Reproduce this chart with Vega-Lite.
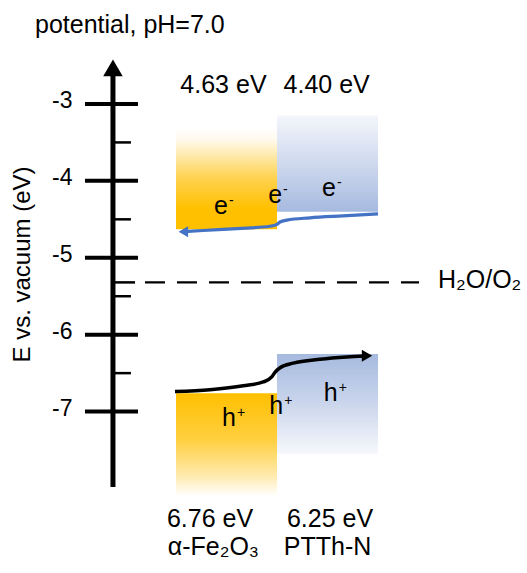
{
  "$schema": "https://vega.github.io/schema/vega-lite/v6.json",
  "width": 440,
  "height": 573,
  "autosize": "none",
  "padding": {"left": 87, "top": 0, "right": 0, "bottom": 0},
  "background": "white",
  "config": {
    "view": {"stroke": null},
    "font": "Liberation Sans",
    "text": {"color": "black"}
  },
  "datasets": {
    "bands": [
      {"material": "α-Fe2O3", "band": "CB", "u": 0, "u2": 1, "v": -3.3, "v2": -4.63},
      {"material": "PTTh-N", "band": "CB", "u": 1, "u2": 2, "v": -3.15, "v2": -4.40},
      {"material": "α-Fe2O3", "band": "VB", "u": 0, "u2": 1, "v": -6.76, "v2": -8.1},
      {"material": "PTTh-N", "band": "VB", "u": 1, "u2": 2, "v": -6.25, "v2": -7.55}
    ],
    "electron": [
      {"u": 0.09, "v": -4.66},
      {"u": 0.267, "v": -4.645},
      {"u": 0.604, "v": -4.62},
      {"u": 0.931, "v": -4.59},
      {"u": 1.0, "v": -4.565},
      {"u": 1.03, "v": -4.535},
      {"u": 1.099, "v": -4.51},
      {"u": 1.327, "v": -4.48},
      {"u": 1.653, "v": -4.455},
      {"u": 2.0, "v": -4.43}
    ],
    "hole": [
      {"u": -0.01, "v": -6.74},
      {"u": 0.337, "v": -6.715},
      {"u": 0.666, "v": -6.665},
      {"u": 0.864, "v": -6.615},
      {"u": 0.948, "v": -6.55},
      {"u": 0.98, "v": -6.49},
      {"u": 1.03, "v": -6.43},
      {"u": 1.161, "v": -6.37},
      {"u": 1.426, "v": -6.32},
      {"u": 1.69, "v": -6.29},
      {"u": 1.87, "v": -6.277}
    ],
    "heads": [
      {"carrier": "e", "u": 0.073, "v": -4.662},
      {"carrier": "h", "u": 1.891, "v": -6.275},
      {"carrier": "axis", "u": -0.624, "v": -2.53}
    ],
    "axisLine": [{"u": -0.624, "v": -2.6, "v2": -7.98}],
    "ticks": [
      {"v": -3, "kind": "major"},
      {"v": -4, "kind": "major"},
      {"v": -5, "kind": "major"},
      {"v": -6, "kind": "major"},
      {"v": -7, "kind": "major"},
      {"v": -3.5, "kind": "minor"},
      {"v": -4.5, "kind": "minor"},
      {"v": -5.5, "kind": "minor"},
      {"v": -6.5, "kind": "minor"}
    ],
    "redox": [{"name": "H2O/O2", "v": -5.32}],
    "carriers": [
      {"u": 0.515, "v": -4.43, "base": "e", "sup": "-"},
      {"u": 1.05, "v": -4.283, "base": "e", "sup": "-"},
      {"u": 1.584, "v": -4.196, "base": "e", "sup": "-"},
      {"u": 0.594, "v": -7.187, "base": "h", "sup": "+"},
      {"u": 1.062, "v": -7.035, "base": "h", "sup": "+"},
      {"u": 1.601, "v": -6.862, "base": "h", "sup": "+"}
    ],
    "centerLabels": [
      {"u": 0.47, "v": -2.857, "text": "4.63 eV"},
      {"u": 1.492, "v": -2.857, "text": "4.40 eV"},
      {"u": 0.337, "v": -8.5, "text": "6.76 eV"},
      {"u": 1.525, "v": -8.5, "text": "6.25 eV"},
      {"u": 0.37, "v": -8.865, "text": "α-Fe₂O₃"},
      {"u": 1.5, "v": -8.865, "text": "PTTh-N"}
    ],
    "leftLabels": [
      {"u": -1.396, "v": -2.077, "text": "potential, pH=7.0"},
      {"u": 2.594, "v": -5.393, "text": "H₂O/O₂"}
    ]
  },
  "encoding": {
    "y": {
      "field": "v",
      "type": "quantitative",
      "scale": {"domain": [-9.099, -1.648], "nice": false, "zero": false},
      "axis": {
        "values": [-3, -4, -5, -6, -7],
        "domain": false,
        "ticks": false,
        "grid": false,
        "labelFontSize": 23,
        "labelColor": "black",
        "labelPadding": 15,
        "labelOffset": -3,
        "labelFlush": false,
        "labelOverlap": false,
        "labelExpr": "datum.value < 0 ? '-' + abs(datum.value) : '' + datum.value",
        "title": "E vs. vacuum (eV)",
        "titleFontSize": 24,
        "titleFontWeight": "normal",
        "titleColor": "black",
        "titleX": -65,
        "titleY": 264,
        "titleAngle": -90,
        "titleAlign": "center",
        "titleBaseline": "middle"
      }
    }
  },
  "layer": [
    {
      "data": {"name": "bands"},
      "transform": [{"filter": "datum.material === 'α-Fe2O3' && datum.band === 'CB'"}],
      "mark": {"type": "rect", "color": {"gradient": "linear", "x1": 0, "y1": 0, "x2": 0, "y2": 1, "stops": [
        {"offset": 0, "color": "#ffffff"},
        {"offset": 0.12, "color": "#fffaee"},
        {"offset": 0.5, "color": "#ffd24f"},
        {"offset": 0.8, "color": "#ffc000"},
        {"offset": 1, "color": "#ffc000"}
      ]}},
      "encoding": {
        "x": {"field": "u", "type": "quantitative", "scale": {"domain": [-0.881, 3.475], "nice": false, "zero": false}, "axis": null},
        "x2": {"field": "u2"},
        "y2": {"field": "v2"}
      }
    },
    {
      "data": {"name": "bands"},
      "transform": [{"filter": "datum.material === 'PTTh-N' && datum.band === 'CB'"}],
      "mark": {"type": "rect", "color": {"gradient": "linear", "x1": 0, "y1": 0, "x2": 0, "y2": 1, "stops": [
        {"offset": 0, "color": "#f3f6fb"},
        {"offset": 0.5, "color": "#cfd9ee"},
        {"offset": 1, "color": "#a6badf"}
      ]}},
      "encoding": {
        "x": {"field": "u", "type": "quantitative", "scale": {"domain": [-0.881, 3.475], "nice": false, "zero": false}, "axis": null},
        "x2": {"field": "u2"},
        "y2": {"field": "v2"}
      }
    },
    {
      "data": {"name": "bands"},
      "transform": [{"filter": "datum.material === 'α-Fe2O3' && datum.band === 'VB'"}],
      "mark": {"type": "rect", "color": {"gradient": "linear", "x1": 0, "y1": 0, "x2": 0, "y2": 1, "stops": [
        {"offset": 0, "color": "#ffc000"},
        {"offset": 0.45, "color": "#ffcf3f"},
        {"offset": 0.8, "color": "#ffeaad"},
        {"offset": 1, "color": "#ffffff"}
      ]}},
      "encoding": {
        "x": {"field": "u", "type": "quantitative", "scale": {"domain": [-0.881, 3.475], "nice": false, "zero": false}, "axis": null},
        "x2": {"field": "u2"},
        "y2": {"field": "v2"}
      }
    },
    {
      "data": {"name": "bands"},
      "transform": [{"filter": "datum.material === 'PTTh-N' && datum.band === 'VB'"}],
      "mark": {"type": "rect", "color": {"gradient": "linear", "x1": 0, "y1": 0, "x2": 0, "y2": 1, "stops": [
        {"offset": 0, "color": "#a6badf"},
        {"offset": 0.5, "color": "#cbd6ec"},
        {"offset": 1, "color": "#f6f8fc"}
      ]}},
      "encoding": {
        "x": {"field": "u", "type": "quantitative", "scale": {"domain": [-0.881, 3.475], "nice": false, "zero": false}, "axis": null},
        "x2": {"field": "u2"},
        "y2": {"field": "v2"}
      }
    },
    {
      "data": {"name": "electron"},
      "mark": {"type": "line", "interpolate": "monotone", "color": "#4472c4", "strokeWidth": 3.2},
      "encoding": {
        "x": {"field": "u", "type": "quantitative", "scale": {"domain": [-0.881, 3.475], "nice": false, "zero": false}, "axis": null}
      }
    },
    {
      "data": {"name": "heads"},
      "transform": [{"filter": "datum.carrier === 'e'"}],
      "mark": {"type": "point", "shape": "triangle-left", "size": 121, "filled": true, "opacity": 1, "color": "#4472c4"},
      "encoding": {
        "x": {"field": "u", "type": "quantitative", "scale": {"domain": [-0.881, 3.475], "nice": false, "zero": false}, "axis": null}
      }
    },
    {
      "data": {"name": "hole"},
      "mark": {"type": "line", "interpolate": "monotone", "color": "black", "strokeWidth": 3.5},
      "encoding": {
        "x": {"field": "u", "type": "quantitative", "scale": {"domain": [-0.881, 3.475], "nice": false, "zero": false}, "axis": null}
      }
    },
    {
      "data": {"name": "heads"},
      "transform": [{"filter": "datum.carrier === 'h'"}],
      "mark": {"type": "point", "shape": "triangle-right", "size": 144, "filled": true, "opacity": 1, "color": "black"},
      "encoding": {
        "x": {"field": "u", "type": "quantitative", "scale": {"domain": [-0.881, 3.475], "nice": false, "zero": false}, "axis": null}
      }
    },
    {
      "data": {"name": "axisLine"},
      "mark": {"type": "rule", "color": "black", "strokeWidth": 5},
      "encoding": {
        "x": {"field": "u", "type": "quantitative", "scale": {"domain": [-0.881, 3.475], "nice": false, "zero": false}, "axis": null},
        "y2": {"field": "v2"}
      }
    },
    {
      "data": {"name": "heads"},
      "transform": [{"filter": "datum.carrier === 'axis'"}],
      "mark": {"type": "point", "shape": "triangle-up", "size": 380, "filled": true, "opacity": 1, "color": "black"},
      "encoding": {
        "x": {"field": "u", "type": "quantitative", "scale": {"domain": [-0.881, 3.475], "nice": false, "zero": false}, "axis": null}
      }
    },
    {
      "data": {"name": "ticks"},
      "transform": [{"filter": "datum.kind === 'major'"}],
      "mark": {"type": "rule", "color": "black", "strokeWidth": 4},
      "encoding": {
        "x": {"datum": -0.901, "type": "quantitative", "scale": {"domain": [-0.881, 3.475], "nice": false, "zero": false}, "axis": null},
        "x2": {"datum": -0.376}
      }
    },
    {
      "data": {"name": "ticks"},
      "transform": [{"filter": "datum.kind === 'minor'"}],
      "mark": {"type": "rule", "color": "black", "strokeWidth": 2.5},
      "encoding": {
        "x": {"datum": -0.624, "type": "quantitative", "scale": {"domain": [-0.881, 3.475], "nice": false, "zero": false}, "axis": null},
        "x2": {"datum": -0.446}
      }
    },
    {
      "data": {"name": "redox"},
      "mark": {"type": "rule", "color": "black", "strokeWidth": 2.5},
      "encoding": {
        "x": {"datum": -0.624, "type": "quantitative", "scale": {"domain": [-0.881, 3.475], "nice": false, "zero": false}, "axis": null},
        "x2": {"datum": -0.406}
      }
    },
    {
      "data": {"name": "redox"},
      "mark": {"type": "rule", "color": "black", "strokeWidth": 2.2, "strokeDash": [20, 12]},
      "encoding": {
        "x": {"datum": -0.307, "type": "quantitative", "scale": {"domain": [-0.881, 3.475], "nice": false, "zero": false}, "axis": null},
        "x2": {"datum": 2.406}
      }
    },
    {
      "data": {"name": "carriers"},
      "mark": {"type": "text", "align": "right", "baseline": "alphabetic", "fontSize": 25},
      "encoding": {
        "x": {"field": "u", "type": "quantitative", "scale": {"domain": [-0.881, 3.475], "nice": false, "zero": false}, "axis": null},
        "text": {"field": "base"}
      }
    },
    {
      "data": {"name": "carriers"},
      "mark": {"type": "text", "align": "left", "baseline": "alphabetic", "fontSize": 14, "dx": 1, "dy": -9},
      "encoding": {
        "x": {"field": "u", "type": "quantitative", "scale": {"domain": [-0.881, 3.475], "nice": false, "zero": false}, "axis": null},
        "text": {"field": "sup"}
      }
    },
    {
      "data": {"name": "centerLabels"},
      "mark": {"type": "text", "align": "center", "baseline": "alphabetic", "fontSize": 25},
      "encoding": {
        "x": {"field": "u", "type": "quantitative", "scale": {"domain": [-0.881, 3.475], "nice": false, "zero": false}, "axis": null},
        "text": {"field": "text"}
      }
    },
    {
      "data": {"name": "leftLabels"},
      "mark": {"type": "text", "align": "left", "baseline": "alphabetic", "fontSize": 25},
      "encoding": {
        "x": {"field": "u", "type": "quantitative", "scale": {"domain": [-0.881, 3.475], "nice": false, "zero": false}, "axis": null},
        "text": {"field": "text"}
      }
    }
  ]
}
